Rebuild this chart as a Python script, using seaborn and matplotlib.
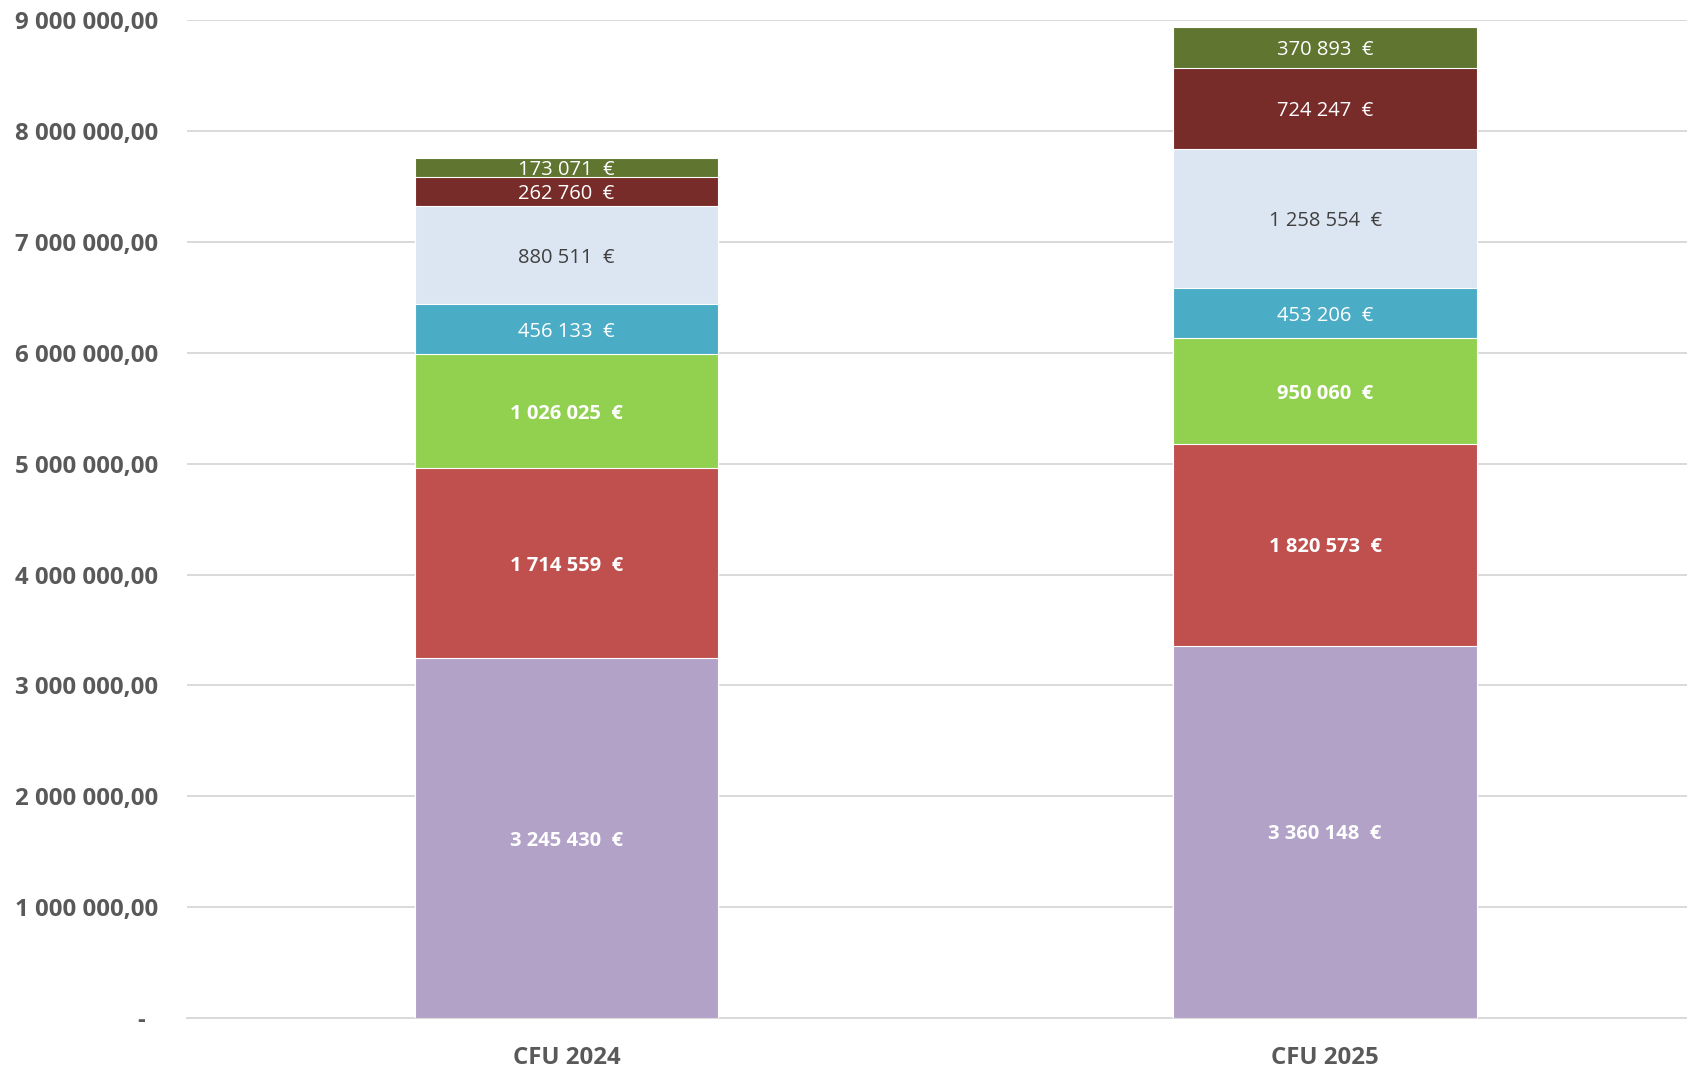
import numpy as np
import pandas as pd
import matplotlib
matplotlib.use("Agg")
import matplotlib.pyplot as plt
import seaborn as sns
from matplotlib.ticker import FuncFormatter

categories = ["CFU 2024", "CFU 2025"]
layers = ["s1", "s2", "s3", "s4", "s5", "s6", "s7"]
vals_2024 = [3245430, 1714559, 1026025, 456133, 880511, 262760, 173071]
vals_2025 = [3360148, 1820573, 950060, 453206, 1258554, 724247, 370893]
colors = ["#B2A2C7", "#C0504D", "#92D050", "#4BACC6", "#DCE6F2", "#772C2A", "#5F7530"]
label_colors = ["white", "white", "white", "white", "#404040", "white", "white"]
label_bold = [True, True, True, False, False, False, False]

sns.set_theme(style="white")
plt.rcParams["font.family"] = ["Open Sans", "DejaVu Sans"]

df = pd.DataFrame({"layer": layers, categories[0]: vals_2024, categories[1]: vals_2025})
long = df.melt(id_vars="layer", var_name="cat", value_name="val")
long["top"] = long.groupby("cat")["val"].cumsum()
long["bottom"] = long["top"] - long["val"]

fig = plt.figure(figsize=(16.87, 10.68), dpi=100)
ax = fig.add_axes([187 / 1687, 1 - 1018 / 1068, 1 - 187 / 1687, (1018 - 20.4) / 1068])

# stacked bars: draw cumulative totals from the top layer down
for i in reversed(range(len(layers))):
    sub = long[long["layer"] == layers[i]]
    sns.barplot(data=sub, x="cat", y="top", order=categories, color=colors[i],
                width=0.4, saturation=1, edgecolor="white", linewidth=0.8, ax=ax, zorder=3)

for _, r in long.iterrows():
    i = layers.index(r["layer"])
    xi = categories.index(r["cat"])
    txt = f"{int(r['val']):,}".replace(",", " ") + "  €"
    ax.text(xi, r["bottom"] + r["val"] / 2, txt, ha="center", va="center_baseline",
            fontsize=14.5, color=label_colors[i],
            fontweight="bold" if label_bold[i] else "normal", zorder=5)

def yfmt(v, pos):
    if v == 0:
        return "-  "
    return f"{v:,.2f}".replace(",", " ").replace(".", ",")

ax.set_ylim(0, 9000000)
ax.set_xlim(-0.5, 1.477)
ax.set_yticks(np.arange(0, 9000001, 1000000))
ax.yaxis.set_major_formatter(FuncFormatter(yfmt))
ax.grid(axis="y", color="#D9D9D9", linewidth=1.4, zorder=0)
ax.set_axisbelow(True)
for s in ["top", "right", "left"]:
    ax.spines[s].set_visible(False)
ax.spines["bottom"].set_color("#D9D9D9")
ax.spines["bottom"].set_linewidth(1.4)
ax.tick_params(axis="both", length=0, labelcolor="#595959")
ax.tick_params(axis="y", pad=21, labelsize=17.3)
ax.tick_params(axis="x", pad=20, labelsize=17.3)
for lab in ax.get_xticklabels() + ax.get_yticklabels():
    lab.set_fontweight("bold")
ax.set_xlabel("")
ax.set_ylabel("")

fig.savefig("out.png", dpi=100)
